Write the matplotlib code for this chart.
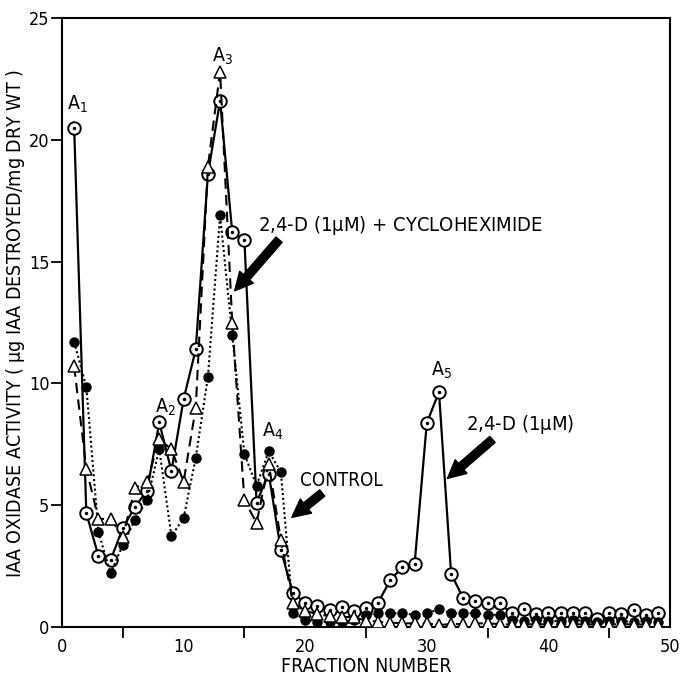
import numpy as np
import matplotlib
matplotlib.use("Agg")
import matplotlib.pyplot as plt

plt.rcParams['font.family'] = ['DejaVu Sans']
plt.rcParams['font.stretch'] = 'condensed'
plt.rcParams['mathtext.default'] = 'regular'

fraction = list(range(1, 50))

# 2,4-D (1 uM) -- bullseye circles, solid line
d24 = [20.5, 4.68, 2.9, 2.75, 4.06, 4.93, 5.6, 8.4, 6.4, 9.35,
       11.4, 18.6, 21.6, 16.2, 15.9, 5.1, 6.3, 3.15, 1.38, 1.0,
       0.86, 0.7, 0.84, 0.67, 0.8, 1.0, 1.93, 2.47, 2.6, 8.37,
       9.65, 2.18, 1.18, 1.05, 1.0, 0.97, 0.56, 0.72, 0.52, 0.59,
       0.56, 0.56, 0.59, 0.33, 0.56, 0.52, 0.7, 0.48, 0.56]

# 2,4-D (1 uM) + cycloheximide -- open triangles, dashed line
d24_chx = [10.7, 6.5, 4.43, 4.45, 3.7, 5.7, 5.96, 7.7, 7.3, 5.96,
           9.0, 18.9, 22.8, 12.5, 5.2, 4.27, 6.7, 3.57, 0.97, 0.67,
           0.52, 0.45, 0.42, 0.4, 0.26, 0.22, 0.18, 0.15, 0.15, 0.15,
           0.08, 0.12, 0.12, 0.15, 0.15, 0.12, 0.1, 0.1, 0.12, 0.1,
           0.1, 0.12, 0.1, 0.1, 0.1, 0.12, 0.1, 0.1, 0.1]

# control -- filled circles, dotted line
control = [11.7, 9.85, 3.9, 2.2, 3.37, 4.4, 5.2, 7.3, 3.73, 4.47,
           6.95, 10.27, 16.9, 12.0, 7.1, 5.8, 7.22, 6.35, 0.56, 0.29,
           0.22, 0.22, 0.22, 0.29, 0.5, 0.56, 0.56, 0.56, 0.5, 0.56,
           0.73, 0.56, 0.56, 0.58, 0.5, 0.5, 0.29, 0.25, 0.3, 0.25,
           0.25, 0.3, 0.25, 0.2, 0.25, 0.25, 0.2, 0.25, 0.2]

peak_labels = ['A$_1$', 'A$_2$', 'A$_3$', 'A$_4$', 'A$_5$']
peak_x = [1.3, 8.5, 13.2, 17.3, 31.2]
peak_y = [21.0, 8.6, 23.0, 7.6, 10.1]

fig = plt.figure(figsize=(6.81, 6.81), dpi=100)
fig.set_facecolor('w')
ax = fig.add_axes([62/681, 54/681, 608/681, 609/681])

ax.plot(fraction, d24, '-', color='k', lw=1.6, marker='o', ms=9,
        mfc='w', mec='k', mew=1.4, zorder=2)
ax.plot(fraction, d24, 'k.', ms=3, zorder=2.1)
ax.plot(fraction, control, color='k', lw=1.5, ls=(0, (1, 1.3)),
        marker='o', ms=6.5, mfc='k', mec='k', zorder=3)
ax.plot(fraction, d24_chx, color='k', lw=1.5, ls=(0, (5, 3)),
        marker='^', ms=8, mfc='w', mec='k', mew=1.1, zorder=4)

for lab, px, py in zip(peak_labels, peak_x, peak_y):
    ax.text(px, py, lab, fontsize=14, ha='center', va='bottom')

arrow = dict(arrowstyle='simple,head_width=1.0,head_length=1.0,tail_width=0.45',
             color='k', mutation_scale=13, shrinkA=0, shrinkB=0)
ax.text(16.1, 16.5, '2,4-D (1$\\mu$M) + CYCLOHEXIMIDE', fontsize=14.5,
        ha='left', va='center')
ax.annotate('', xy=(14.2, 13.8), xytext=(17.85, 15.9), arrowprops=arrow)
ax.text(19.6, 6.0, 'CONTROL', fontsize=13.5, ha='left', va='center')
ax.annotate('', xy=(18.9, 4.5), xytext=(21.4, 5.5), arrowprops=arrow)
ax.text(33.2, 8.3, '2,4-D (1$\\mu$M)', fontsize=14.5, ha='left', va='center')
ax.annotate('', xy=(31.7, 6.1), xytext=(35.4, 7.7), arrowprops=arrow)

ax.set_xlim(0, 50)
ax.set_ylim(0, 25)
ax.set_xticks([0, 10, 20, 30, 40, 50])
ax.set_xticks([5, 15, 25, 35, 45], minor=True)
ax.set_yticks([0, 5, 10, 15, 20, 25])
ax.tick_params(axis='x', which='major', length=0, labelsize=13, pad=8)
ax.tick_params(axis='x', which='minor', length=8, width=1.3)
ax.tick_params(axis='y', length=8, width=1.3, labelsize=13, pad=1)
for s in ax.spines.values():
    s.set_linewidth(1.5)

ax.set_xlabel('FRACTION NUMBER', fontsize=14, labelpad=1)
fig.text(16/681, 0.525, 'IAA OXIDASE ACTIVITY ( $\\mu$g IAA DESTROYED/mg DRY WT )',
         rotation=90, fontsize=14, ha='center', va='center')

fig.savefig('out.png', dpi=100)
